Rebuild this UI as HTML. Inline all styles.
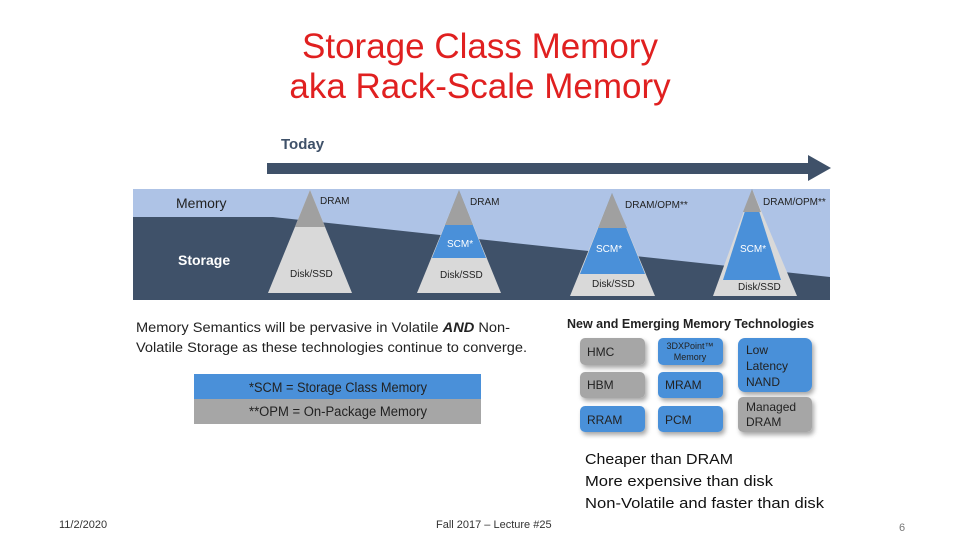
<!DOCTYPE html>
<html><head><meta charset="utf-8"><style>
body{margin:0;background:#fff}
svg text{font-family:"Liberation Sans",sans-serif}
</style></head><body>
<svg width="960" height="540" viewBox="0 0 960 540" xmlns="http://www.w3.org/2000/svg">
<defs><filter id="sh" x="-20%" y="-20%" width="150%" height="160%"><feDropShadow dx="2" dy="3" stdDeviation="2.5" flood-color="#000" flood-opacity="0.35"/></filter></defs>
<text x="480" y="58" font-size="35" fill="#e02020" text-anchor="middle">Storage Class Memory</text>
<text x="480" y="98" font-size="35" fill="#e02020" text-anchor="middle">aka Rack-Scale Memory</text>
<text x="281" y="149" font-size="15" font-weight="bold" fill="#3f5169">Today</text>
<rect x="267" y="163" width="545" height="11" fill="#3f5169"/>
<polygon points="808,155 831,168 808,181" fill="#3f5169"/>
<rect x="133" y="189" width="697" height="111" fill="#aec3e6"/>
<polygon points="133,217 273,217 830,277 830,300 133,300" fill="#3f5169"/>
<text x="176" y="208" font-size="14" fill="#222">Memory</text>
<text x="178" y="265" font-size="14" font-weight="bold" fill="#fff">Storage</text>
<polygon points="310,190 352,293 268,293" fill="#d9d9d9"/>
<polygon points="310,190 325,227 295,227" fill="#a0a0a0"/>
<polygon points="459,190 501,293 417,293" fill="#d9d9d9"/>
<polygon points="459,190 486,258 432,258" fill="#4a90d9"/>
<polygon points="459,190 473,225 445,225" fill="#a0a0a0"/>
<polygon points="612,193 655,296 570,296" fill="#d9d9d9"/>
<polygon points="612,193 645,274 580,274" fill="#4a90d9"/>
<polygon points="612,193 627,228 598,228" fill="#a0a0a0"/>
<polygon points="752,189 797,296 713,296" fill="#d9d9d9"/>
<polygon points="752,189 781,280 723,280" fill="#4a90d9"/>
<polygon points="752,189 761,212 743,212" fill="#a0a0a0"/>
<g font-size="10" fill="#222">
<text x="320" y="204">DRAM</text>
<text x="290" y="277">Disk/SSD</text>
<text x="470" y="205">DRAM</text>
<text x="447" y="247" fill="#fff">SCM*</text>
<text x="440" y="278">Disk/SSD</text>
<text x="625" y="208">DRAM/OPM**</text>
<text x="596" y="252" fill="#fff">SCM*</text>
<text x="592" y="287">Disk/SSD</text>
<text x="763" y="205">DRAM/OPM**</text>
<text x="740" y="252" fill="#fff">SCM*</text>
<text x="738" y="290">Disk/SSD</text>
</g>
<text x="136" y="332" font-size="13.5" fill="#222" textLength="374" lengthAdjust="spacingAndGlyphs">Memory Semantics will be pervasive in Volatile <tspan font-weight="bold" font-style="italic">AND</tspan> Non-</text>
<text x="136" y="352" font-size="13.5" fill="#222" textLength="391" lengthAdjust="spacingAndGlyphs">Volatile Storage as these technologies continue to converge.</text>
<rect x="194" y="374" width="287" height="25" fill="#4a90d9"/>
<rect x="194" y="399" width="287" height="25" fill="#a6a6a6"/>
<text x="338" y="392" font-size="13.5" fill="#222" text-anchor="middle" textLength="178" lengthAdjust="spacingAndGlyphs">*SCM = Storage Class Memory</text>
<text x="338" y="416" font-size="13.5" fill="#222" text-anchor="middle" textLength="178" lengthAdjust="spacingAndGlyphs">**OPM = On-Package Memory</text>
<text x="567" y="328" font-size="12.5" font-weight="bold" fill="#222">New and Emerging Memory Technologies</text>
<g filter="url(#sh)">
<rect x="580" y="338" width="65" height="27" rx="5" fill="#a6a6a6"/>
<rect x="658" y="338" width="65" height="27" rx="5" fill="#4a90d9"/>
<rect x="738" y="338" width="74" height="54" rx="7" fill="#4a90d9"/>
<rect x="580" y="372" width="65" height="26" rx="5" fill="#a6a6a6"/>
<rect x="658" y="372" width="65" height="26" rx="5" fill="#4a90d9"/>
<rect x="738" y="397" width="74" height="35" rx="5" fill="#a6a6a6"/>
<rect x="580" y="406" width="65" height="26" rx="5" fill="#4a90d9"/>
<rect x="658" y="406" width="65" height="26" rx="5" fill="#4a90d9"/>
</g>
<g font-size="12" fill="#222">
<text x="587" y="356">HMC</text>
<text x="690" y="349" font-size="9" text-anchor="middle">3DXPoint™</text>
<text x="690" y="360" font-size="9" text-anchor="middle">Memory</text>
<text x="746" y="354">Low</text>
<text x="746" y="370">Latency</text>
<text x="746" y="386">NAND</text>
<text x="587" y="389">HBM</text>
<text x="665" y="389">MRAM</text>
<text x="746" y="411">Managed</text>
<text x="746" y="426">DRAM</text>
<text x="587" y="424">RRAM</text>
<text x="665" y="424">PCM</text>
</g>
<g font-size="15" fill="#111">
<text x="585" y="464" textLength="148" lengthAdjust="spacingAndGlyphs">Cheaper than DRAM</text>
<text x="585" y="486" textLength="188" lengthAdjust="spacingAndGlyphs">More expensive than disk</text>
<text x="585" y="508" textLength="239" lengthAdjust="spacingAndGlyphs">Non-Volatile and faster than disk</text>
</g>
<text x="59" y="528" font-size="11" fill="#333">11/2/2020</text>
<text x="436" y="528" font-size="11" fill="#333">Fall 2017 – Lecture #25</text>
<text x="899" y="531" font-size="11" fill="#777">6</text>
</svg>
</body></html>
